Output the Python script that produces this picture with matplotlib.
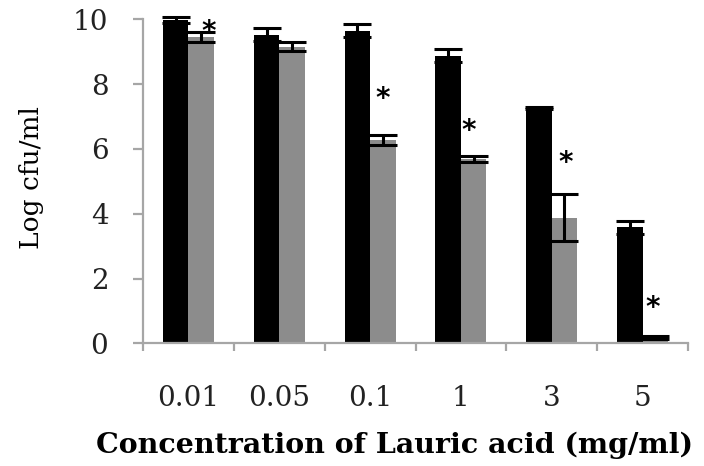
import matplotlib.pyplot as plt
import numpy as np

categories = ["0.01", "0.05", "0.1", "1", "3", "5"]
control = [9.98, 9.52, 9.64, 8.87, 7.26, 3.58]
control_err = [0.08, 0.2, 0.2, 0.2, 0.03, 0.2]
treated = [9.45, 9.15, 6.28, 5.68, 3.88, 0.17]
treated_err = [0.16, 0.14, 0.16, 0.09, 0.72, 0.04]

# significance stars: group index, x shift within group, y level
star_groups = [0, 2, 3, 4, 5]
star_dx = [0.22, 0.14, 0.09, 0.15, 0.11]
star_y = [9.6, 7.55, 6.55, 5.55, 1.1]

AXIS_GRAY = "#a6a6a6"
BAR_GRAY = "#8c8c8c"
SERIF = ["DejaVu Serif"]

fig = plt.figure(figsize=(7.04, 4.66), dpi=100)
ax = fig.add_axes([0.2031, 0.2633, 0.7742, 0.6953])

x = np.arange(len(categories))
w = 0.28
err_kw = dict(ecolor="black", elinewidth=2.2, capsize=10, capthick=2.2, clip_on=False)
ax.bar(x - w / 2, control, w, color="black", yerr=control_err,
       error_kw=err_kw, clip_on=False)
ax.bar(x + w / 2, treated, w, color=BAR_GRAY, yerr=treated_err,
       error_kw=err_kw, clip_on=False)

for g, dx, sy in zip(star_groups, star_dx, star_y):
    ax.text(g + dx, sy, "*", ha="center", va="center", fontsize=20,
            fontweight="bold", color="black")

ax.set_xlim(-0.5, len(categories) - 0.5)
ax.set_ylim(0, 10)
ax.set_yticks(range(0, 11, 2))
ax.set_xticks(x)
ax.set_xticklabels(categories)
ax.set_xticks(np.arange(-0.5, len(categories), 1), minor=True)

for side in ("top", "right"):
    ax.spines[side].set_visible(False)
for side in ("left", "bottom"):
    ax.spines[side].set_color(AXIS_GRAY)
    ax.spines[side].set_linewidth(1.6)

ax.tick_params(axis="x", which="major", length=0, pad=30)
ax.tick_params(axis="x", which="minor", length=6, width=1.6, color=AXIS_GRAY)
ax.tick_params(axis="y", length=7, width=1.6, color=AXIS_GRAY, pad=18)
for lab in ax.get_xticklabels() + ax.get_yticklabels():
    lab.set_family(SERIF)
    lab.set_fontsize(20)
    lab.set_color("#222222")

ax.set_ylabel("Log cfu/ml", family=SERIF, fontsize=19, va="center")
ax.yaxis.set_label_coords(-0.205, 0.513)
ax.set_xlabel("Concentration of Lauric acid (mg/ml)", family=SERIF,
              fontsize=20.5, fontweight="bold", va="center")
ax.xaxis.set_label_coords(0.462, -0.315)

fig.savefig("out.png", dpi=100)
